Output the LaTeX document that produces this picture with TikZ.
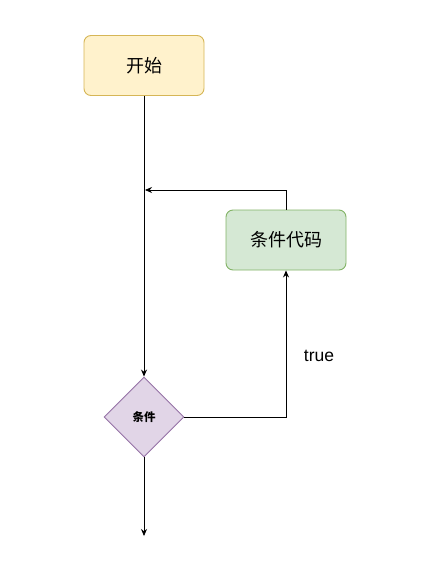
\documentclass[tikz,border=0pt]{standalone}
\usepackage{fontspec}
\setmainfont{Liberation Sans}
\newfontfamily\cjk{Noto Sans CJK SC}
\usetikzlibrary{shapes.geometric,arrows.meta}

\definecolor{startfill}{HTML}{FFF2CC}
\definecolor{startdraw}{HTML}{D6B656}
\definecolor{codefill}{HTML}{D5E8D4}
\definecolor{codedraw}{HTML}{82B366}
\definecolor{condfill}{HTML}{E1D5E7}
\definecolor{conddraw}{HTML}{9673A6}

\tikzset{
    flowbox/.style={rectangle, rounded corners=7pt, line width=0.9pt, minimum width=120pt, minimum height=60pt, inner sep=0pt, font=\cjk\fontsize{18}{21}\selectfont},
    condnode/.style={diamond, aspect=1, line width=0.9pt, minimum width=80pt, minimum height=80pt, inner sep=0pt, fill=condfill, draw=conddraw, font=\cjk\bfseries\fontsize{11.5}{13}\selectfont},
    flow/.style={-{Stealth[length=7pt,width=6pt]}, line width=0.8pt}
}

\begin{document}
\begin{tikzpicture}[x=1pt, y=-1pt]
        \useasboundingbox (0,0) rectangle (430,588);
        \node[flowbox, fill=startfill, draw=startdraw] (start) at (144,65.5) {开始};
        \node[flowbox, fill=codefill, draw=codedraw] (code) at (286,240) {条件代码};
        \node[condnode] (cond) at (144,417) {条件};
        \coordinate (join) at (145,190);
        \coordinate (out) at (144,536);
        \node[font=\fontsize{17.5}{20}\selectfont] (true) at (319,355.5) {true};
        \draw[flow] (start) -- (cond);
        \draw[flow] (cond.east) -| (code.south);
        \draw[flow] (code.north) |- (join);
        \draw[flow] (cond) -- (out);
    \end{tikzpicture}
\end{document}
